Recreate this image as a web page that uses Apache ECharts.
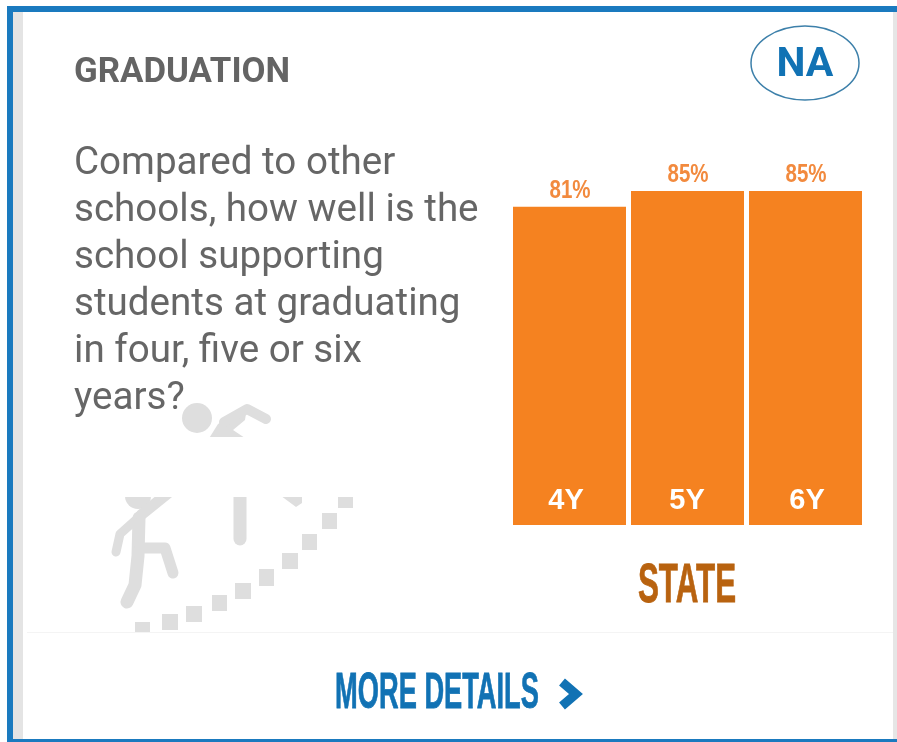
<!DOCTYPE html>
<html>
<head>
<meta charset="utf-8">
<style>html,body{margin:0;padding:0;background:#fff}#card{width:897px;height:742px}</style>
<script src="https://cdn.jsdelivr.net/npm/echarts@6/dist/echarts.min.js"></script>
</head>
<body>
<div id="card"></div>
<script>
// Graduation card: state rates at four, five and six years
const categories = ['4Y', '5Y', '6Y'];
const stateRates = [81, 85, 85];
const cardTitle = 'GRADUATION';
const ratingBadge = 'NA';
const groupLabel = 'STATE';
const linkLabel = 'MORE DETAILS';
const questionLines = [
  'Compared to other',
  'schools, how well is the',
  'school supporting',
  'students at graduating',
  'in four, five or six',
  'years?'
];

const BLUE = '#1172b4';
const ORANGE = '#f58220';
const ICON = '#dedede';
const HEAVY = '"Liberation Sans", sans-serif';

// Stair steps of the background icon
const stepBoxes = [
  [135, 622, 15, 10], [162, 614, 16, 16], [186, 606, 16, 16], [212, 595, 15, 16], [235, 583, 16, 16],
  [259, 569, 15, 17], [282, 553, 16, 16], [302, 534, 15, 16], [322, 513, 15, 16], [338, 495, 15, 13]
];
const iconLines = [
  { pts: [[224, 422], [247, 409], [266, 419]], w: 10 },
  { pts: [[139, 518], [138, 556], [135, 585], [127, 602]], w: 13 },
  { pts: [[139, 517], [120, 534], [116, 552]], w: 9 },
  { pts: [[141, 515], [172, 490]], w: 11 },
  { pts: [[140, 548], [165, 548], [173, 573]], w: 11 },
  { pts: [[240, 490], [240, 539]], w: 13 }
];

const iconGraphics = [
  { type: 'circle', shape: { cx: 197, cy: 418, r: 15 }, style: { fill: ICON } },
  { type: 'polygon', shape: { points: [[208, 440], [218, 424], [247, 407], [245, 420], [233, 430], [248, 440]] }, style: { fill: ICON } },
  { type: 'circle', shape: { cx: 138, cy: 496, r: 13 }, style: { fill: ICON } },
  { type: 'polygon', shape: { points: [[273, 490], [302, 490], [302, 503], [296, 507]] }, style: { fill: ICON } }
].concat(iconLines.map(l => ({
  type: 'polyline',
  shape: { points: l.pts },
  style: { stroke: ICON, lineWidth: l.w, fill: null, lineCap: 'round', lineJoin: 'round' }
}))).concat(stepBoxes.map(b => ({
  type: 'rect',
  shape: { x: b[0], y: b[1], width: b[2], height: b[3] },
  style: { fill: ICON }
})));

const frameGraphics = [
  { type: 'rect', shape: { x: 13, y: 12, width: 10, height: 727 }, style: { fill: '#e4e4e4' } },
  { type: 'rect', shape: { x: 893, y: 12, width: 4, height: 727 }, style: { fill: '#e6e6e6' } },
  { type: 'rect', shape: { x: 7, y: 6, width: 890, height: 6 }, style: { fill: '#1a7abf' } },
  { type: 'rect', shape: { x: 7, y: 6, width: 6, height: 736 }, style: { fill: '#1a7abf' } },
  { type: 'rect', shape: { x: 7, y: 739, width: 890, height: 3 }, style: { fill: '#1a7abf' } },
  { type: 'rect', shape: { x: 27, y: 632, width: 866, height: 1 }, style: { fill: '#f4f4f4' } }
];

const textGraphics = [
  { type: 'text', x: 74, y: 73, style: { text: cardTitle, fill: '#646464', font: '700 34.8px Roboto, sans-serif', textVerticalAlign: 'middle' } },
  { type: 'ellipse', shape: { cx: 805, cy: 63, rx: 54, ry: 37 }, style: { fill: '#fff', stroke: '#3d80aa', lineWidth: 1.5 } },
  { type: 'text', x: 805, y: 66, style: { text: ratingBadge, fill: BLUE, font: '700 41px Roboto, sans-serif', textAlign: 'center', textVerticalAlign: 'middle' } }
].concat(questionLines.map((line, i) => ({
  type: 'text',
  x: 74,
  y: 164 + i * 47,
  style: { text: line, fill: '#666666', font: '400 38.6px Roboto, sans-serif', textVerticalAlign: 'middle' }
}))).concat([
  { type: 'text', x: 687, y: 587, scaleX: 0.56, style: { text: groupLabel, fill: '#b8620f', stroke: '#b8620f', lineWidth: 0.8, font: '700 56px ' + HEAVY, textAlign: 'center', textVerticalAlign: 'middle' } },
  { type: 'text', x: 437, y: 694, scaleX: 0.545, style: { text: linkLabel, fill: BLUE, stroke: BLUE, lineWidth: 0.8, font: '700 50px ' + HEAVY, textAlign: 'center', textVerticalAlign: 'middle' } },
  { type: 'polyline', shape: { points: [[562, 682], [576, 694], [562, 706]] }, style: { stroke: BLUE, lineWidth: 9, fill: null, lineJoin: 'miter' } }
]);

const chart = echarts.init(document.getElementById('card'), null, { renderer: 'canvas' });
const inBarLabel = { color: '#fff', fontFamily: HEAVY, fontWeight: 700, fontSize: 29 };
chart.setOption({
  animation: false,
  backgroundColor: '#ffffff',
  grid: { left: 510.5, top: 132, width: 354, height: 393, containLabel: false },
  xAxis: {
    type: 'category',
    data: categories,
    axisLine: { show: false },
    axisTick: { show: false },
    z: 5,
    axisLabel: {
      inside: true,
      margin: 10,
      formatter: (v, i) => '{c' + i + '|' + v + '}',
      rich: {
        c0: Object.assign({ padding: [0, 7, 0, 0] }, inBarLabel),
        c1: Object.assign({ padding: [0, 1, 0, 0] }, inBarLabel),
        c2: Object.assign({ padding: [0, 0, 0, 3] }, inBarLabel)
      }
    }
  },
  yAxis: { type: 'value', min: 0, max: 100, show: false, splitLine: { show: false } },
  series: [{
    type: 'bar',
    data: stateRates,
    barWidth: 113,
    itemStyle: { color: ORANGE }
  }, {
    // Percent captions set in a horizontally compressed face above each bar
    type: 'custom',
    coordinateSystem: 'cartesian2d',
    data: stateRates.map((v, i) => [i, v]),
    encode: { x: 0, y: 1 },
    z: 6,
    renderItem: (params, api) => {
      const at = api.coord([api.value(0), api.value(1)]);
      return {
        type: 'text',
        x: at[0] + 0.5,
        y: at[1] - 16,
        scaleX: 0.82,
        style: {
          text: api.value(1) + '%',
          fill: '#f28a3e',
          font: '700 25px ' + HEAVY,
          textAlign: 'center',
          textVerticalAlign: 'middle'
        }
      };
    }
  }],
  graphic: { elements: [
    { type: 'group', children: iconGraphics },
    { type: 'rect', shape: { x: 66, y: 437, width: 314, height: 60 }, style: { fill: '#fff' } },
    { type: 'group', children: frameGraphics },
    { type: 'group', children: textGraphics }
  ] }
});
</script>
</body>
</html>
